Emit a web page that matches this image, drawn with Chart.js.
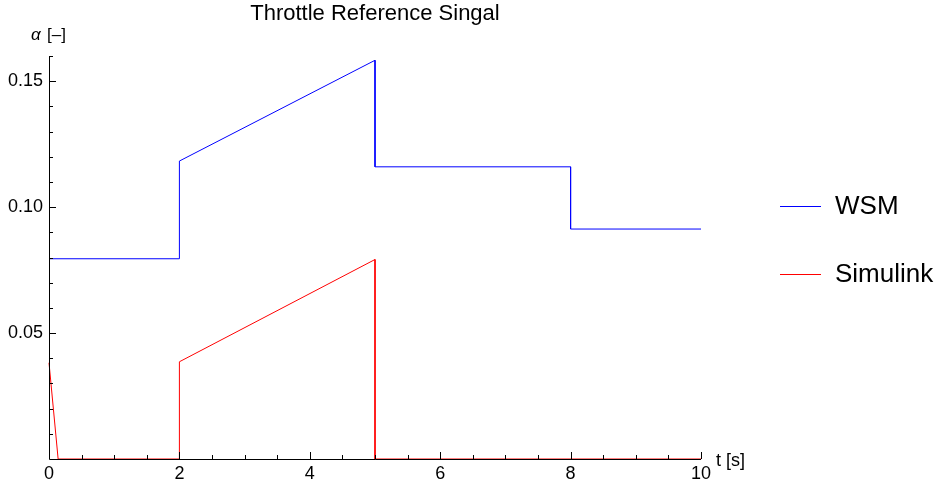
<!DOCTYPE html>
<html>
<head>
<meta charset="utf-8">
<script src="https://cdn.jsdelivr.net/npm/chart.js"></script>
<style>
  html, body { margin: 0; padding: 0; background: #fff; }
  #wrap { width: 945px; height: 488px; }
</style>
</head>
<body>
<div id="wrap"><canvas id="throttle"></canvas></div>
<script>
// throttle reference, time in seconds
const wsmTime = [0, 2, 2, 5, 5, 8, 8, 10];
const wsmAlpha = [0.0795, 0.0795, 0.1183, 0.1583, 0.116, 0.116, 0.0913, 0.0913];
const simTime = [0, 0.14, 2, 2, 5, 5, 10];
const simAlpha = [0.0382, 0, 0, 0.0386, 0.0792, 0, 0];

const xMajor = [0, 2, 4, 6, 8, 10];
const yMajor = [0.05, 0.1, 0.15];

const FONT = "'Liberation Sans', Arial, sans-serif";

const toPoints = (xs, ys) => xs.map((x, i) => ({ x, y: ys[i] }));
const isMajor = (v, list) => list.some((m) => Math.abs(m - v) < 1e-9);

// mathematica-ish axes: ticks pointing inward, axis drawn over the data
const axesPlugin = {
  id: "axes",
  afterDatasetsDraw(chart) {
    const { ctx, chartArea: a, scales } = chart;
    const xs = scales.x, ys = scales.y;
    ctx.save();
    ctx.strokeStyle = "#000";
    ctx.lineWidth = 1;
    ctx.beginPath();
    ctx.moveTo(a.left + 0.5, a.top);
    ctx.lineTo(a.left + 0.5, a.bottom + 0.5);
    ctx.lineTo(a.right, a.bottom + 0.5);
    xs.ticks.forEach((t) => {
      const px = Math.round(xs.getPixelForValue(t.value)) + 0.5;
      const len = isMajor(t.value, xMajor) ? 7 : 4;
      ctx.moveTo(px, a.bottom);
      ctx.lineTo(px, a.bottom - len);
    });
    ys.ticks.forEach((t) => {
      if (t.value === 0) return;
      const py = Math.round(ys.getPixelForValue(t.value)) + 0.5;
      const len = isMajor(t.value, yMajor) ? 7 : 4;
      ctx.moveTo(a.left, py);
      ctx.lineTo(a.left + len, py);
    });
    ctx.stroke();

    // title and axis names
    ctx.fillStyle = "#000";
    ctx.textBaseline = "middle";
    ctx.textAlign = "center";
    ctx.font = "22px " + FONT;
    ctx.fillText("Throttle Reference Singal", (a.left + a.right) / 2, 14);
    ctx.textAlign = "left";
    ctx.font = "italic 17px " + FONT;
    ctx.fillText("\u03b1", 31, 35);
    ctx.font = "17px " + FONT;
    ctx.fillText("[\u2013]", 47, 35);
    ctx.font = "18px " + FONT;
    ctx.fillText("t [s]", 716, 461);

    // legend
    ctx.font = "26px " + FONT;
    chart.data.datasets.forEach((ds, i) => {
      const y = 206 + i * 68 + 0.5;
      ctx.strokeStyle = ds.borderColor;
      ctx.beginPath();
      ctx.moveTo(780, y);
      ctx.lineTo(821, y);
      ctx.stroke();
      ctx.fillText(ds.label, 835, y);
    });
    ctx.restore();
  },
};

new Chart(document.getElementById("throttle"), {
  type: "scatter",
  data: {
    datasets: [
      {
        label: "WSM",
        data: toPoints(wsmTime, wsmAlpha),
        showLine: true,
        borderColor: "#0000ff",
        borderWidth: 1,
        pointRadius: 0,
        clip: false,
      },
      {
        label: "Simulink",
        data: toPoints(simTime, simAlpha),
        showLine: true,
        borderColor: "#ff0000",
        borderWidth: 1,
        pointRadius: 0,
        clip: false,
      },
    ],
  },
  options: {
    responsive: true,
    maintainAspectRatio: false,
    animation: false,
    layout: { padding: { top: 56, right: 244, left: 0, bottom: 0 } },
    plugins: {
      legend: { display: false },
      title: { display: false },
      tooltip: { enabled: false },
    },
    scales: {
      x: {
        type: "linear",
        min: 0,
        max: 10,
        grid: { display: false, drawTicks: false },
        border: { display: false },
        afterFit: (s) => { s.height = 29; },
        ticks: {
          stepSize: 0.5,
          autoSkip: false,
          maxRotation: 0,
          padding: 4,
          color: "#000",
          font: { family: FONT, size: 18 },
          callback: (v) => (isMajor(v, xMajor) ? String(v) : ""),
        },
      },
      y: {
        type: "linear",
        min: 0,
        max: 0.16,
        grid: { display: false, drawTicks: false },
        border: { display: false },
        afterFit: (s) => { s.width = 49; },
        ticks: {
          stepSize: 0.01,
          autoSkip: false,
          padding: 6,
          color: "#000",
          font: { family: FONT, size: 18 },
          callback: (v) => (isMajor(v, yMajor) ? v.toFixed(2) : ""),
        },
      },
    },
  },
  plugins: [axesPlugin],
});
</script>
</body>
</html>
